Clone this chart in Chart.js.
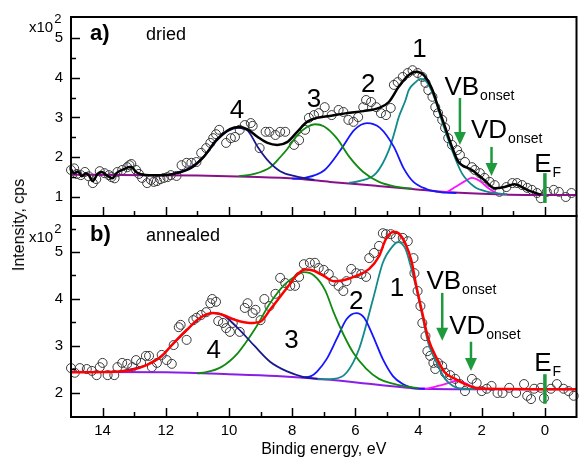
<!DOCTYPE html>
<html><head><meta charset="utf-8">
<script src="https://cdn.jsdelivr.net/npm/chart.js@4.4.1/dist/chart.umd.min.js"></script>
<style>
html,body{margin:0;padding:0;background:#fff;}
#wrap{position:relative;width:582px;height:459px;overflow:hidden;}
#wrap canvas{position:absolute;left:0;top:0;}
#ytitle{position:absolute;left:19px;top:225px;transform:translate(-50%,-50%) rotate(-90deg);font:16px "Liberation Sans",Arial,sans-serif;white-space:nowrap;color:#000;}
</style></head><body>
<div id="wrap">
<canvas id="ca" width="582" height="459"></canvas>
<canvas id="cb" width="582" height="459"></canvas>
<div id="ytitle">Intensity, cps</div>
</div>
<script>
// ================= DATA: panel a (dried) =================
const aDotE = [15.00,14.90,14.81,14.69,14.56,14.44,14.31,14.20,14.09,13.94,13.80,13.72,13.62,13.53,13.38,13.22,13.15,13.09,12.94,12.85,12.75,12.59,12.47,12.38,12.28,12.17,12.06,11.95,11.84,11.66,11.50,11.34,11.19,11.03,10.88,10.72,10.59,10.50,10.41,10.31,10.09,9.94,9.81,9.66,9.50,9.31,9.25,9.03,8.84,8.72,8.53,8.38,8.22,7.94,7.78,7.59,7.47,7.31,7.16,6.97,6.75,6.53,6.38,6.22,6.06,5.91,5.75,5.66,5.50,5.34,5.19,5.03,4.88,4.78,4.66,4.50,4.34,4.19,4.03,3.88,3.78,3.69,3.56,3.47,3.38,3.25,3.16,3.06,2.94,2.78,2.69,2.53,2.31,2.22,2.06,1.91,1.75,1.59,1.44,1.22,1.03,0.88,0.72,0.56,0.41,0.25,0.13,-0.06,-0.28,-0.44,-0.66,-0.84];
const aDotI = [1.68,1.72,1.58,1.55,1.63,1.52,1.35,1.45,1.65,1.60,1.55,1.50,1.47,1.63,1.68,1.75,1.80,1.83,1.68,1.58,1.48,1.35,1.43,1.38,1.40,1.45,1.48,1.50,1.55,1.53,1.80,1.86,1.86,1.88,2.11,2.23,2.36,2.48,2.58,2.69,2.36,2.48,2.51,2.69,2.81,2.86,2.79,2.23,2.64,2.64,2.56,2.64,2.64,2.31,2.43,2.69,2.99,3.06,3.11,3.26,3.06,3.19,3.14,2.94,2.89,3.01,3.26,3.44,3.39,3.26,3.11,3.06,3.24,3.82,3.89,4.02,4.12,4.19,4.12,4.02,3.87,3.69,3.52,3.26,3.11,2.94,2.74,2.48,2.31,2.18,2.06,1.88,1.75,1.68,1.60,1.48,1.38,1.30,1.13,1.25,1.35,1.35,1.30,1.23,1.18,1.10,0.97,1.13,1.18,1.13,1.00,1.10];
const aFitE = [15.0,14.9,14.78,14.66,14.53,14.44,14.31,14.16,14.03,13.88,13.69,13.56,13.38,13.1,12.94,12.78,12.5,12.06,11.66,11.2,10.8,10.4,9.97,9.66,9.41,9.09,8.78,8.47,8.16,7.84,7.53,7.22,6.81,6.28,5.75,5.25,4.94,4.63,4.31,4.08,3.84,3.56,3.38,3.16,2.94,2.75,2.31,1.91,1.59,1.28,0.97,0.56,0.13];
const aFitI = [1.70,1.60,1.64,1.52,1.60,1.55,1.40,1.58,1.63,1.55,1.47,1.60,1.68,1.76,1.63,1.57,1.55,1.55,1.60,1.73,2.01,2.43,2.71,2.76,2.70,2.51,2.36,2.31,2.38,2.64,2.89,2.99,3.04,3.11,3.16,3.24,3.39,3.77,4.07,4.15,4.07,3.69,3.26,2.76,2.26,1.90,1.68,1.42,1.22,1.25,1.32,1.18,1.06];
const aBgE = [15.0,12.7,11.0,9.4,7.84,6.8,5.34,4.2,3.25,2.0,0.5,-1.0];
const aBgI = [1.56,1.55,1.54,1.51,1.46,1.38,1.28,1.20,1.13,1.08,1.05,1.05];
const aP4E = [11.9,11.28,10.8,10.41,10.03,9.72,9.41,9.09,8.78,8.38,7.94,7.59,7.3];
const aP4I = [1.55,1.72,2.01,2.40,2.66,2.74,2.67,2.26,1.93,1.65,1.53,1.47,1.43];
const aP3E = [9.7,9.2,8.69,8.38,8.16,7.84,7.53,7.28,7.0,6.59,6.19,5.75,5.25,4.72,4.2];
const aP3I = [1.52,1.58,1.75,2.00,2.20,2.55,2.76,2.83,2.78,2.48,2.01,1.63,1.38,1.26,1.21];
const aP2E = [8.0,7.63,6.97,6.47,6.03,5.63,5.22,4.78,4.47,4.16,3.75,3.31,2.8];
const aP2I = [1.46,1.48,1.68,2.18,2.69,2.86,2.74,2.26,1.72,1.38,1.20,1.12,1.10];
const aP1E = [6.2,5.88,5.34,4.94,4.72,4.63,4.41,4.31,4.09,3.94,3.72,3.47,3.22,2.94,2.63,2.22,1.81,1.59,1.2];
const aP1I = [1.36,1.40,1.60,2.18,2.74,3.00,3.44,3.69,3.89,3.97,3.87,3.44,2.81,2.18,1.60,1.25,1.13,1.10,1.07];
const aP5E = [3.3,3.16,2.84,2.53,2.31,2.06,1.81,1.53,1.3];
const aP5I = [1.12,1.12,1.25,1.40,1.48,1.40,1.23,1.10,1.07];

// ================= DATA: panel b (annealed) =================
const bDotE = [15.00,14.88,14.72,14.50,14.34,14.19,14.09,14.00,13.84,13.63,13.53,13.38,13.22,13.06,12.94,12.78,12.63,12.53,12.44,12.28,12.13,11.97,11.81,11.75,11.59,11.53,11.34,11.13,11.03,10.88,10.72,10.59,10.53,10.41,10.34,10.19,10.09,9.97,9.88,9.66,9.50,9.41,9.25,9.16,9.00,8.88,8.72,8.53,8.38,8.22,8.06,7.91,7.78,7.63,7.44,7.28,7.16,7.00,6.84,6.69,6.53,6.38,6.28,6.13,5.97,5.81,5.66,5.56,5.41,5.25,5.13,5.03,4.88,4.72,4.50,4.34,4.16,4.13,4.03,3.94,3.88,3.78,3.72,3.63,3.53,3.47,3.38,3.25,3.16,3.00,2.84,2.69,2.53,2.31,2.16,2.00,1.84,1.69,1.50,1.34,1.13,0.91,0.66,0.56,0.44,0.34,0.13,0.03,-0.19,-0.38,-0.59,-0.75,-0.91];
const bDotI = [2.53,2.43,2.53,2.51,2.47,2.38,2.55,2.64,2.38,2.38,2.55,2.64,2.62,2.55,2.70,2.64,2.79,2.79,2.55,2.64,2.81,2.70,2.62,3.02,3.40,3.45,3.13,3.55,3.60,3.66,3.72,3.91,4.00,3.94,3.53,3.49,3.38,3.30,3.49,3.30,3.81,3.91,3.70,3.77,3.55,4.00,3.85,4.11,4.45,4.34,4.28,4.28,4.47,4.74,4.77,4.77,4.66,4.62,4.53,4.38,4.28,4.17,4.38,4.64,4.55,4.53,4.47,4.87,4.98,5.13,5.40,5.38,5.38,5.30,5.30,5.23,4.87,4.55,4.17,3.85,3.49,3.21,2.89,2.79,2.64,2.51,2.64,2.57,2.43,2.38,2.30,2.19,2.04,2.30,2.21,2.04,2.09,2.15,2.00,2.00,2.11,2.00,2.19,1.94,1.87,2.09,2.11,1.89,2.09,2.19,2.09,2.04,1.94];
const bFitE = [15.0,13.63,13.09,12.59,12.16,11.75,11.34,10.91,10.5,10.19,9.78,9.34,9.0,8.69,8.38,8.16,7.84,7.59,7.31,7.0,6.69,6.38,5.97,5.56,5.25,5.03,4.78,4.63,4.41,4.22,4.09,3.88,3.69,3.41,3.16,2.84,2.53,2.22,1.81,-1.0];
const bFitI = [2.44,2.45,2.49,2.60,2.77,3.06,3.34,3.60,3.70,3.66,3.55,3.49,3.52,3.78,4.05,4.24,4.52,4.63,4.60,4.49,4.38,4.40,4.49,4.64,4.91,5.28,5.43,5.40,5.17,4.80,4.34,3.70,3.15,2.72,2.43,2.30,2.19,2.11,2.09,2.08];
const bBgE = [15.0,12.0,10.0,8.5,7.0,5.5,4.5,4.0,2.0,-1.0];
const bBgI = [2.45,2.44,2.40,2.36,2.29,2.19,2.12,2.09,2.08,2.08];
const bP4E = [13.5,12.59,12.16,11.75,11.34,10.91,10.5,10.25,9.72,9.19,8.69,8.16,7.63,7.2];
const bP4I = [2.45,2.60,2.77,3.06,3.34,3.60,3.70,3.68,3.38,3.00,2.66,2.46,2.34,2.30];
const bP3E = [11.0,10.75,10.25,9.72,9.19,8.69,8.25,7.94,7.63,7.31,6.95,6.69,6.38,6.06,5.66,5.25,4.81,4.41,4.0];
const bP3I = [2.42,2.44,2.55,2.85,3.35,3.92,4.30,4.47,4.57,4.50,4.18,3.72,3.25,2.85,2.52,2.30,2.20,2.14,2.10];
const bP2E = [7.7,7.4,7.22,6.91,6.59,6.28,5.97,5.72,5.44,5.13,4.81,4.5,4.19,3.8];
const bP2I = [2.33,2.36,2.45,2.72,3.15,3.57,3.70,3.60,3.21,2.72,2.36,2.19,2.11,2.09];
const bP1E = [7.2,6.69,6.28,5.88,5.44,5.13,4.81,4.63,4.41,4.31,4.09,3.88,3.69,3.41,3.16,2.91,2.63,2.2];
const bP1I = [2.29,2.30,2.43,2.94,4.00,4.77,5.13,5.21,5.06,4.85,4.28,3.64,3.06,2.62,2.30,2.15,2.09,2.08];
const bP5E = [4.0,3.69,3.38,3.06,2.78,2.53,2.22,2.0,1.7];
const bP5I = [2.09,2.10,2.15,2.21,2.26,2.21,2.11,2.09,2.08];

// ================= TICKS =================
const xTickLabels = [14,12,10,8,6,4,2,0];
const xMinorTicks = [13,11,9,7,5,3,1];
const aYTicks = [1,2,3,4,5];
const aYMinor = [1.5,2.5,3.5,4.5];
const bYTicks = [2,3,4,5];
const bYMinor = [2.5,3.5,4.5,5.5];

// ================= ANNOTATIONS =================
const aPeakLabels = [{t:'4',e:9.75,v:2.99},{t:'3',e:7.31,v:3.26},{t:'2',e:5.59,v:3.64},{t:'1',e:3.97,v:4.52}];
const aOnsetLabels = [{t:'VB',s:'onset',e:3.18,v:3.57},{t:'VD',s:'onset',e:2.34,v:2.48},{t:'E',s:'F',e:0.34,v:1.63}];
const aArrows = [{e:2.69,from:3.49,to:2.31},{e:1.69,from:2.26,to:1.53}];
const aEF = {e:0,from:1.60,to:0.85};
const bPeakLabels = [{t:'4',e:10.48,v:2.74},{t:'3',e:8.02,v:2.96},{t:'2',e:5.97,v:3.79},{t:'1',e:4.68,v:4.06}];
const bOnsetLabels = [{t:'VB',s:'onset',e:3.75,v:4.21},{t:'VD',s:'onset',e:3.03,v:3.26},{t:'E',s:'F',e:0.34,v:2.47}];
const bArrows = [{e:3.25,from:4.13,to:3.11},{e:2.34,from:3.09,to:2.47}];
const bEF = {e:0,from:2.40,to:1.77};

// ================= RENDERING =================
const FONT = '"Liberation Sans", Arial, Helvetica, sans-serif';
const ARROW = '#1e9a3c';
const pts = (E,I) => E.map((e,i)=>({x:e,y:I[i]}));
const lineDS = (E,I,color,w) => ({data:pts(E,I),showLine:true,borderColor:color,backgroundColor:color,borderWidth:w,pointRadius:0,pointHoverRadius:0,cubicInterpolationMode:'monotone',fill:false});
const dotDS = (E,I) => ({data:pts(E,I),showLine:false,pointRadius:4.5,pointHoverRadius:4.5,pointBorderWidth:1,borderColor:'#3a3a3a',pointBorderColor:'#3a3a3a',pointBackgroundColor:'rgba(0,0,0,0)',backgroundColor:'rgba(0,0,0,0)',clip:false});

function deco(cfg){
  return {
    id:'deco',
    afterDatasetsDraw(chart){
      const {ctx, chartArea:a, scales:{x,y}} = chart;
      ctx.save();
      // arrows
      ctx.strokeStyle = ARROW; ctx.fillStyle = ARROW;
      cfg.arrows.forEach(ar=>{
        const px = x.getPixelForValue(ar.e), y0 = y.getPixelForValue(ar.from), y1 = y.getPixelForValue(ar.to);
        ctx.lineWidth = 2.5; ctx.beginPath(); ctx.moveTo(px,y0); ctx.lineTo(px,y1-11); ctx.stroke();
        ctx.beginPath(); ctx.moveTo(px-6,y1-13); ctx.lineTo(px+6,y1-13); ctx.lineTo(px,y1); ctx.closePath(); ctx.fill();
      });
      const ex = x.getPixelForValue(cfg.ef.e);
      ctx.lineWidth = 3.5; ctx.beginPath();
      ctx.moveTo(ex,y.getPixelForValue(cfg.ef.from)); ctx.lineTo(ex,y.getPixelForValue(cfg.ef.to)); ctx.stroke();
      // frame and inward ticks
      ctx.strokeStyle = '#000'; ctx.lineWidth = 1.5;
      const seg=(x0,y0,x1,y1)=>{ctx.beginPath();ctx.moveTo(x0,y0);ctx.lineTo(x1,y1);ctx.stroke();};
      xTickLabels.forEach(v=>{const p=Math.round(x.getPixelForValue(v))+0.5; seg(p,a.bottom,p,a.bottom-9);});
      xMinorTicks.forEach(v=>{const p=Math.round(x.getPixelForValue(v))+0.5; seg(p,a.bottom,p,a.bottom-5);});
      cfg.yMajor.forEach(v=>{const p=Math.round(y.getPixelForValue(v))+0.5; seg(a.left,p,a.left+9,p);});
      cfg.yMinor.forEach(v=>{const p=Math.round(y.getPixelForValue(v))+0.5; seg(a.left,p,a.left+5,p);});
      ctx.lineWidth = 2;
      ctx.strokeRect(a.left, a.top, a.right-a.left, a.bottom-a.top);
      // texts
      ctx.fillStyle = '#000'; ctx.textBaseline = 'alphabetic';
      ctx.textAlign = 'center'; ctx.font = '26px '+FONT;
      cfg.peaks.forEach(l=>ctx.fillText(l.t, x.getPixelForValue(l.e), y.getPixelForValue(l.v)));
      ctx.textAlign = 'left';
      cfg.onsets.forEach(l=>{
        const px = x.getPixelForValue(l.e), py = y.getPixelForValue(l.v);
        ctx.font = '26px '+FONT; ctx.fillText(l.t, px, py);
        const w = ctx.measureText(l.t).width;
        ctx.font = '14px '+FONT; ctx.fillText(l.s, px+w+1, py+5);
      });
      ctx.font = 'bold 22px '+FONT; ctx.fillText(cfg.tag, a.left+19, a.top+cfg.tagDy);
      ctx.font = '18px '+FONT; ctx.fillText(cfg.name, a.left+75, a.top+cfg.tagDy);
      ctx.font = '15px '+FONT; ctx.fillText('x10', a.left-42, a.top+cfg.expDy);
      const w10 = ctx.measureText('x10').width;
      ctx.font = '13px '+FONT; ctx.fillText('2', a.left-42+w10+1, a.top+cfg.expDy-9);
      ctx.restore();
    }
  };
}

function makeChart(id, datasets, ymin, ymax, yTicks, padding, showX, cfg){
  return new Chart(document.getElementById(id), {
    type:'scatter',
    data:{datasets},
    options:{
      responsive:false, animation:false, devicePixelRatio:1,
      layout:{padding},
      plugins:{legend:{display:false}, tooltip:{enabled:false}},
      events:[],
      scales:{
        x:{type:'linear', min:-1, max:15, reverse:true,
          grid:{display:false, drawTicks:false}, border:{display:false},
          ticks:{display:showX, color:'#000', padding:5, font:{family:FONT,size:15}, callback:v=>String(v)},
          afterBuildTicks:s=>{s.ticks = xTickLabels.map(v=>({value:v}));},
          title:{display:showX, text:'Bindig energy, eV', color:'#000', font:{family:FONT,size:16}, padding:{top:0,bottom:0}},
          afterFit:s=>{s.height = showX ? 42 : 0;}},
        y:{type:'linear', min:ymin, max:ymax,
          grid:{display:false, drawTicks:false}, border:{display:false},
          ticks:{color:'#000', padding:8, font:{family:FONT,size:15}, callback:v=>String(v)},
          afterBuildTicks:s=>{s.ticks = yTicks.map(v=>({value:v}));},
          afterFit:s=>{s.width = 71;}}
      }
    },
    plugins:[deco(cfg)]
  });
}

const aSets = [
  lineDS(aFitE,aFitI,'#000000',2.5),
  lineDS(aP4E,aP4I,'#1a1a8c',1.8),
  lineDS(aP3E,aP3I,'#108a10',1.8),
  lineDS(aP2E,aP2I,'#1515ff',1.8),
  lineDS(aP1E,aP1I,'#108a8a',1.8),
  lineDS(aP5E,aP5I,'#ff10ff',1.8),
  lineDS(aBgE,aBgI,'#8a108a',2),
  dotDS(aDotE,aDotI)
];
const bSets = [
  lineDS(bFitE,bFitI,'#ff0000',2.5),
  lineDS(bP4E,bP4I,'#1a1a8c',1.8),
  lineDS(bP3E,bP3I,'#108a10',1.8),
  lineDS(bP2E,bP2I,'#1515ff',1.8),
  lineDS(bP1E,bP1I,'#108a8a',1.8),
  lineDS(bP5E,bP5I,'#ff10ff',1.8),
  lineDS(bBgE,bBgI,'#8a1ee6',2),
  dotDS(bDotE,bDotI)
];

makeChart('ca', aSets, 0.522, 5.528, aYTicks, {left:0,right:1,top:17,bottom:243}, false,
  {arrows:aArrows, ef:aEF, peaks:aPeakLabels, onsets:aOnsetLabels, yMajor:aYTicks, yMinor:aYMinor, tag:'a)', name:'dried', tagDy:23, expDy:15});
makeChart('cb', bSets, 1.489, 5.766, bYTicks, {left:0,right:1,top:216,bottom:0}, true,
  {arrows:bArrows, ef:bEF, peaks:bPeakLabels, onsets:bOnsetLabels, yMajor:bYTicks, yMinor:bYMinor, tag:'b)', name:'annealed', tagDy:25, expDy:26});
</script>
</body></html>
